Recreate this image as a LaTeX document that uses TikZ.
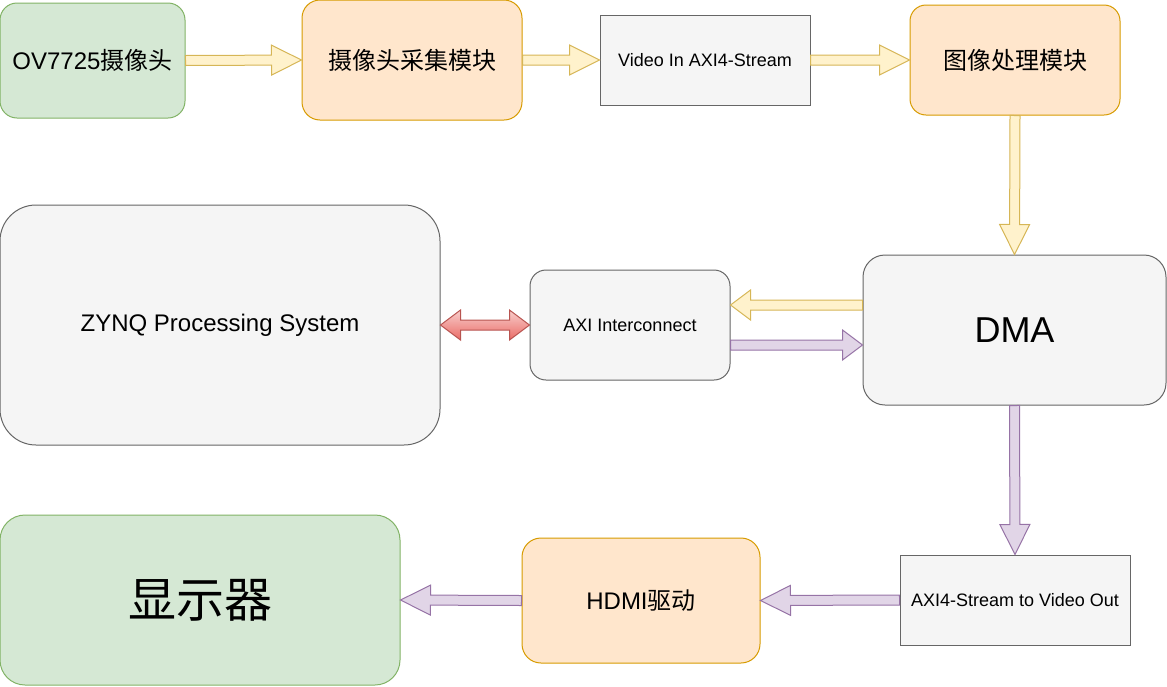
\documentclass[tikz,border=0pt]{standalone}
\usepackage{fontspec}
\setmainfont{Liberation Sans}
\newfontfamily\cjk{Noto Sans CJK SC}
\usetikzlibrary{calc}

\definecolor{grnfill}{HTML}{D5E8D4}\definecolor{grnline}{HTML}{82B366}
\definecolor{orgfill}{HTML}{FFE6CC}\definecolor{orgline}{HTML}{D79B00}
\definecolor{gryfill}{HTML}{F5F5F5}\definecolor{gryline}{HTML}{666666}
\definecolor{ylwfill}{HTML}{FFF2CC}\definecolor{ylwline}{HTML}{D6B656}
\definecolor{prpfill}{HTML}{E1D5E7}\definecolor{prpline}{HTML}{9673A6}
\definecolor{redfill}{HTML}{F8CECC}\definecolor{redline}{HTML}{B85450}
\definecolor{reddark}{HTML}{EA6B66}

\tikzset{
    box/.style={draw, line width=1pt, inner sep=0pt, align=center},
    camera/.style={box, fill=grnfill, draw=grnline},
    module/.style={box, fill=orgfill, draw=orgline},
    ipcore/.style={box, fill=gryfill, draw=gryline},
    yflow/.style={fill=ylwfill, draw=ylwline, line width=1pt},
    pflow/.style={fill=prpfill, draw=prpline, line width=1pt},
    rflow/.style={top color=redfill, bottom color=reddark, draw=redline, line width=1pt},
}

% wide block arrow from #3 to #4, head length #1
\newcommand{\fatarrow}[4][30pt]{%
    \path[#2] let \p1=(#3), \p2=(#4),
        \n1={veclen(\x2-\x1,\y2-\y1)}, \n2={atan2(\y2-\y1,\x2-\x1)} in
        [shift={(\p1)}, rotate=\n2]
        (0pt,5pt) -- ({\n1-#1},5pt) -- ({\n1-#1},15pt) -- ({\n1-0pt},0pt)
        -- ({\n1-#1},-15pt) -- ({\n1-#1},-5pt) -- (0pt,-5pt) -- cycle;}
% same, with a head at both ends
\newcommand{\dblarrow}[3]{%
    \path[#1] let \p1=(#2), \p2=(#3),
        \n1={veclen(\x2-\x1,\y2-\y1)}, \n2={atan2(\y2-\y1,\x2-\x1)} in
        [shift={(\p1)}, rotate=\n2]
        (0pt,0pt) -- (20pt,15pt) -- (20pt,5pt) -- ({\n1-20pt},5pt) -- ({\n1-20pt},15pt)
        -- ({\n1-0pt},0pt) -- ({\n1-20pt},-15pt) -- ({\n1-20pt},-5pt) -- (20pt,-5pt)
        -- (20pt,-15pt) -- cycle;}

\begin{document}
\begin{tikzpicture}[x=1pt, y=-1pt]
    \useasboundingbox (0,0) rectangle (1167,686);

    % top row: camera path
    \node[camera, rounded corners=17pt, minimum width=185pt, minimum height=115pt,
          font=\fontsize{24}{28}\selectfont] (ov) at (92.5,60.5) {OV7725{\cjk 摄像头}};
    \node[module, rounded corners=18pt, minimum width=220pt, minimum height=120pt,
          font=\fontsize{24}{28}\selectfont] (cap) at (412,60) {\cjk 摄像头采集模块};
    \node[ipcore, minimum width=210pt, minimum height=90pt,
          font=\fontsize{18}{22}\selectfont] (vin) at (705,60) {Video In AXI4-Stream};
    \node[module, rounded corners=16pt, minimum width=210pt, minimum height=110pt,
          font=\fontsize{24}{28}\selectfont] (proc) at (1015,60) {\cjk 图像处理模块};

    % middle row
    \node[ipcore, rounded corners=36pt, minimum width=440pt, minimum height=240pt,
          font=\fontsize{24}{28}\selectfont] (zynq) at (220,325) {ZYNQ Processing System};
    \node[ipcore, rounded corners=16pt, minimum width=200pt, minimum height=110pt,
          font=\fontsize{18}{22}\selectfont] (axi) at (630,325) {AXI Interconnect};
    \node[ipcore, rounded corners=22pt, minimum width=303pt, minimum height=150pt,
          font=\fontsize{36}{40}\selectfont] (dma) at (1014.5,330) {DMA};

    % bottom row: display path
    \node[camera, rounded corners=25pt, minimum width=400pt, minimum height=170pt,
          font=\fontsize{48}{54}\selectfont] (disp) at (200,600) {\cjk 显示器};
    \node[module, rounded corners=19pt, minimum width=238pt, minimum height=125pt,
          font=\fontsize{24}{28}\selectfont] (hdmi) at (641,600.5) {HDMI{\cjk 驱动}};
    \node[ipcore, minimum width=230pt, minimum height=90pt,
          font=\fontsize{18}{22}\selectfont] (vout) at (1015,600) {AXI4-Stream to Video Out};

    % ends of the two DMA links
    \coordinate (dmaR) at (dma.west |- 0,305);
    \coordinate (axiR) at (axi.east |- 0,305);
    \coordinate (dmaW) at (dma.west |- 0,345);
    \coordinate (axiW) at (axi.east |- 0,345);

    % data flow
    \foreach \a/\b/\s/\h in {ov.east/cap.west/yflow/30pt, cap.east/vin.west/yflow/30pt,
            vin.east/proc.west/yflow/30pt, proc.south/dma.north/yflow/30pt,
            dmaR/axiR/yflow/20pt, axiW/dmaW/pflow/20pt,
            dma.south/vout.north/pflow/30pt, vout.west/hdmi.east/pflow/30pt,
            hdmi.west/disp.east/pflow/30pt}
        \fatarrow[\h]{\s}{\a}{\b};
    \dblarrow{rflow}{zynq.east}{axi.west};
\end{tikzpicture}
\end{document}
